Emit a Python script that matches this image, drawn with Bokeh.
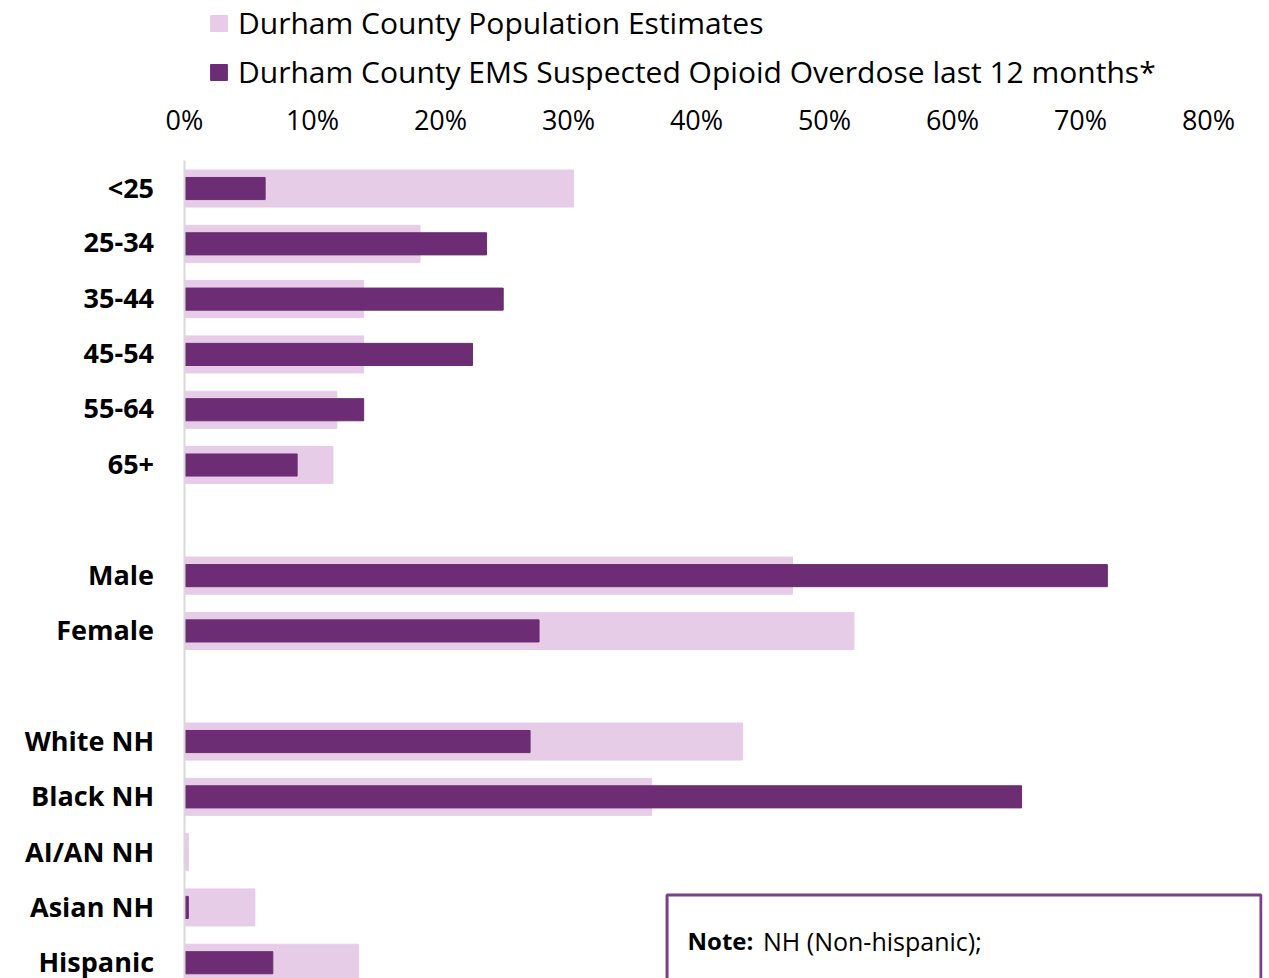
from bokeh.plotting import figure
from bokeh.models import Range1d, BoxAnnotation, Label
from bokeh.core.properties import value
from bokeh.embed import file_html
from bokeh.resources import INLINE

# ---- data (percent) ----
age_groups = ["<25", "25-34", "35-44", "45-54", "55-64", "65+"]
sex_groups = ["Male", "Female"]
race_groups = ["White NH", "Black NH", "AI/AN NH", "Asian NH", "Hispanic"]

pop_age = [30.4, 18.4, 14.0, 14.0, 11.9, 11.6]
pop_sex = [47.5, 52.3]
pop_race = [43.6, 36.5, 0.3, 5.5, 13.6]

ems_age = [6.3, 23.6, 24.9, 22.5, 14.0, 8.8]
ems_sex = [72.1, 27.7]
ems_race = [27.0, 65.4, 0.0, 0.3, 6.9]

tick_values = [0, 10, 20, 30, 40, 50, 60, 70, 80]
tick_labels = ["0%", "10%", "20%", "30%", "40%", "50%", "60%", "70%", "80%"]

pop_name = "Durham County Population Estimates"
ems_name = "Durham County EMS Suspected Opioid Overdose last 12 months*"

# ---- build slot positions with a blank gap between groups ----
cats, pops, emss, slots = [], [], [], []
pos = 0
for names, pv, ev in [(age_groups, pop_age, ems_age),
                      (sex_groups, pop_sex, ems_sex),
                      (race_groups, pop_race, ems_race)]:
    for n, a, b in zip(names, pv, ev):
        cats.append(n); pops.append(a); emss.append(b); slots.append(pos)
        pos += 1
    pos += 1

LIGHT = "#E7CCE8"
DARK = "#6C2D74"
FONT = "Open Sans"

Y_TOP, Y_BOTTOM = -3.40, 14.285      # visible slot span (top of chart to cut-off bottom)
AXIS_TOP = -0.506                    # where the category axis line begins
TICK_ROW = -1.25                     # row of the percentage tick labels
CAT_LABEL_X = -2.38                  # right edge of the category labels

p = figure(width=1269, height=978, output_backend="svg", toolbar_location=None,
           x_range=Range1d(-14.375, 84.22), y_range=Range1d(Y_BOTTOM, Y_TOP),
           x_axis_location=None, y_axis_location=None,
           min_border_left=0, min_border_right=7, min_border_top=0,
           min_border_bottom=0)

p.hbar(y=slots, right=pops, left=0, height=0.67, color=LIGHT, legend_label=pop_name)
p.hbar(y=slots, right=emss, left=0, height=0.40, color=DARK, legend_label=ems_name)

# category axis line
p.segment(x0=[0], y0=[AXIS_TOP], x1=[0], y1=[Y_BOTTOM + 1], line_color="#D9D9D9", line_width=2)

# percentage tick labels along the top
p.text(x=tick_values, y=[TICK_ROW] * len(tick_values), text=tick_labels,
       text_align="center", text_baseline="middle", text_font=value(FONT),
       text_font_size="27px", text_color="#000000")

# category labels
p.text(x=[CAT_LABEL_X] * len(cats), y=slots, text=cats, y_offset=-1,
       text_align="right", text_baseline="middle", text_font=value(FONT),
       text_font_style="bold", text_font_size="27px", text_color="#000000")

p.grid.visible = False
p.outline_line_color = None

lg = p.legend[0]
lg.location = (208, 886)
lg.orientation = "vertical"
lg.border_line_color = None
lg.background_fill_alpha = 0
lg.padding = 0
lg.margin = 0
lg.spacing = 8
lg.glyph_width = 21
lg.glyph_height = 20
lg.label_standoff = 9
lg.label_text_font = FONT
lg.label_text_font_size = "30px"
lg.label_text_color = "#000000"

note_box = BoxAnnotation(left=37.7, right=84.1, top=12.776, bottom=14.6,
                         fill_color="white", fill_alpha=1.0,
                         line_color="#7B3F86", line_alpha=1.0, line_width=3)
p.add_layout(note_box)
p.add_layout(Label(x=39.3, y=13.6, text="Note:", text_font=FONT, text_font_style="bold",
                   text_font_size="24px", text_baseline="middle", text_color="#000000"))
p.add_layout(Label(x=45.2, y=13.6, text="NH (Non-hispanic);", text_font=FONT,
                   text_font_size="25px", text_baseline="middle", text_color="#000000"))

open("out.html", "w").write(file_html(p, INLINE))
